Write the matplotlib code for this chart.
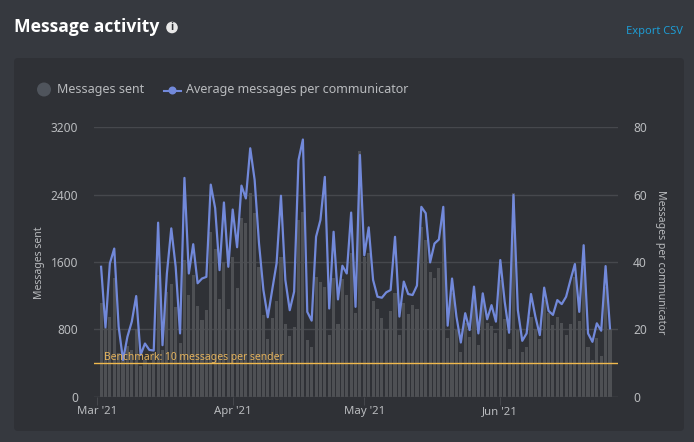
import matplotlib
matplotlib.use("Agg")
import matplotlib.pyplot as plt
import matplotlib.dates as mdates
from matplotlib.patches import FancyBboxPatch, Circle
from matplotlib.lines import Line2D
import pandas as pd

messages_sent = [1109,812,950,1406,515,515,602,554,800,364,436,396,515,1445,554,1247,1338,1069,642,1624,
    1208,1445,1077,911,1030,1960,1754,1156,1604,1038,1655,1287,2119,2059,2416,2178,1544,970,685,931,
    1137,1655,863,725,832,2099,2198,673,586,1418,1358,1307,733,1406,863,1394,1208,1703,998,2922,
    1663,1703,1137,1038,931,800,1018,1228,733,1117,978,1089,1038,2020,1861,1477,1406,1525,2099,693,
    1228,792,535,871,713,1188,614,1148,871,840,752,1386,919,566,2416,792,535,594,950,800,
    685,1148,990,851,942,871,733,863,1426,899,1544,594,436,693,483,1307,800]
avg_per_communicator = [38.6,20.6,39.6,44,20.8,10.9,17.8,22.3,29.9,12.4,15.8,13.9,13.7,51.7,15.3,36.6,50,38.6,18.8,65,
    36.6,45.3,33.7,35.1,35.6,63,56,37.6,57.7,38.6,55.6,44.4,62.7,58.9,73.8,64.4,45.5,31.7,23.6,31.7,
    39.6,59.7,34.7,25.7,31.2,70.3,76.4,25.2,22.6,47.5,52.5,65.3,26.2,49,28.9,38.9,36.6,54.7,26.7,71.8,
    42,50.3,34.7,29.7,29.4,31,31.7,47.5,23.8,34.2,30.5,30.2,33,56.4,54.5,39.9,45.5,46.7,56.4,21.1,
    35.1,23.8,16.1,24.8,19.8,32.7,18.8,30.7,23,27.2,22.3,40.6,28.2,19,59.9,25.7,16.6,18.8,30.5,23.8,
    18.3,32.4,25.5,24.3,28.7,27.5,29.7,34.7,39.4,25.2,45,18.8,16.3,21.8,19.6,38.8,20.3]
left_ticks = [0, 800, 1600, 2400, 3200]
right_ticks = [0, 20, 40, 60, 80]
month_ticks = ["2021-03-01", "2021-04-01", "2021-05-01", "2021-06-01"]
month_labels = ["Mar '21", "Apr '21", "May '21", "Jun '21"]
benchmark = 10
dates = pd.date_range("2021-03-02", periods=len(messages_sent), freq="D")

W, H = 694, 442
BG, PANEL, TXT, GRID = "#36393f", "#2f3136", "#b9bbbe", "#46484d"
plt.rcParams["font.family"] = ["Noto Sans", "DejaVu Sans"]
fig = plt.figure(figsize=(W/100, H/100), dpi=100, facecolor=BG)

def fx(x): return x / W
def fy(y): return 1 - y / H

page = fig.add_axes([0, 0, 1, 1], zorder=0)
page.set_xlim(0, W); page.set_ylim(H, 0); page.axis("off")
page.add_patch(FancyBboxPatch((18, 62), 662, 365, boxstyle="round,pad=4,rounding_size=4",
                              fc=PANEL, ec="none"))
page.text(14, 27.5, "Message activity", color="white", fontsize=12.6, fontweight="bold",
          family=["Open Sans", "DejaVu Sans"], va="center")
page.add_patch(Circle((172, 27.5), 5.8, fc="#e8e8e8", ec="none"))
page.text(172, 27.5, "i", color=PANEL, fontsize=7.5, fontweight="bold", family=["Open Sans"], ha="center", va="center")
page.text(683, 31.5, "Export CSV", color="#1e9bd2", fontsize=8, ha="right", va="center")
page.add_patch(Circle((44, 89.5), 7, fc="#4f545c", ec="none"))
page.text(57, 90, "Messages sent", color=TXT, fontsize=9.0, va="center")
page.add_line(Line2D([164, 181], [90.5, 90.5], color="#7289da", lw=1.5))
page.add_patch(Circle((172.5, 90.5), 4, fc="#7289da", ec="none"))
page.text(186, 90, "Average messages per communicator", color=TXT, fontsize=9.0, va="center")

L, R, T, B = 94, 617.7, 127.4, 396.7
ax = fig.add_axes([fx(L), fy(B), fx(R - L), (B - T) / H], zorder=1)
ax.patch.set_alpha(0)
x0 = mdates.date2num(pd.Timestamp("2021-03-01"))
px_per_day = 4.387
ax.set_xlim(x0 - (96.7 - L) / px_per_day, x0 + (R - 96.7) / px_per_day)
ax.set_ylim(0, 3200)
ax.set_yticks(left_ticks)
ax.set_xticks(mdates.date2num(pd.to_datetime(month_ticks)))
ax.set_xticklabels(month_labels)
ax.grid(axis="y", color=GRID, lw=1)
ax.set_axisbelow(True)
ax.bar(dates, messages_sent, width=3.1/px_per_day, color="#4e5054", zorder=2)
for s in ax.spines.values():
    s.set_visible(False)
ax.tick_params(axis="x", colors=TXT, labelsize=8.2, length=6, width=0.7, color=GRID, pad=1)
ax.tick_params(axis="y", colors=TXT, labelsize=8.6, length=0, pad=11.5)
ax.axhline(0, color=GRID, lw=1, zorder=3)

ax2 = ax.twinx()
ax2.patch.set_alpha(0)
ax2.set_ylim(0, 80)
ax2.set_yticks(right_ticks)
for s in ax2.spines.values():
    s.set_visible(False)
ax2.tick_params(axis="y", colors=TXT, labelsize=8.6, length=0, pad=11)
ax2.plot(dates, avg_per_communicator, color="#7289da", lw=1.6, solid_joinstyle="round", zorder=4)
ax2.axhline(benchmark, color="#f0b94e", lw=1, zorder=5)
ax2.text(0.0195, benchmark - 0.1, "Benchmark: 10 messages per sender", transform=ax2.get_yaxis_transform(),
         color="#e3b25c", fontsize=7.45, va="bottom", ha="left", zorder=6)

page.text(39.5, 263, "Messages sent", color=TXT, fontsize=7.5, rotation=90, ha="center", va="center")
page.text(660.5, 262, "Messages per communicator", color=TXT, fontsize=7.6, rotation=270, ha="center", va="center")

fig.savefig("out.png", dpi=100, facecolor=BG)
